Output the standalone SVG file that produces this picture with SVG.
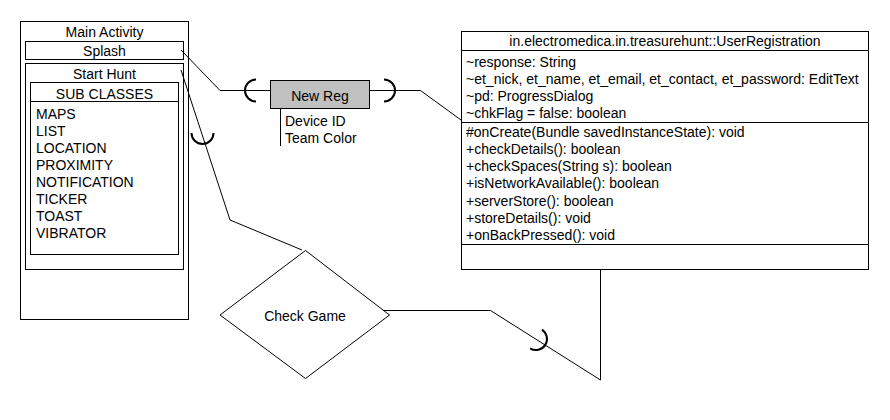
<svg xmlns="http://www.w3.org/2000/svg" width="890" height="420" viewBox="0 0 890 420">
<style>
text{font-family:"Liberation Sans",Arial,sans-serif;font-size:14px;fill:#000}
.c{text-anchor:middle}
.box{fill:#fff;stroke:#000;stroke-width:1}
.ln{fill:none;stroke:#000;stroke-width:1}
.arc{fill:none;stroke:#000;stroke-width:2}
</style>
<rect width="890" height="420" fill="#fff"/>
<g id="main-activity">
<rect class="box" x="20.5" y="21.5" width="168" height="298"/>
<text class="c" x="104.5" y="37">Main Activity</text>
<rect class="box" x="25.5" y="41.5" width="158" height="18"/>
<text class="c" x="104.5" y="56">Splash</text>
<rect class="box" x="25.5" y="63.5" width="158" height="206"/>
<text class="c" x="104.5" y="79">Start Hunt</text>
<rect class="box" x="30.5" y="82.5" width="148" height="172"/>
<line class="ln" x1="30.5" y1="101.5" x2="178.5" y2="101.5"/>
<text class="c" x="104.5" y="98.5">SUB CLASSES</text>
<text x="36" y="119">MAPS</text>
<text x="36" y="136">LIST</text>
<text x="36" y="153">LOCATION</text>
<text x="36" y="170">PROXIMITY</text>
<text x="36" y="187">NOTIFICATION</text>
<text x="36" y="204">TICKER</text>
<text x="36" y="221">TOAST</text>
<text x="36" y="238">VIBRATOR</text>
</g>
<g id="new-reg">
<rect x="270.5" y="80.5" width="99" height="28" fill="#c0c0c0" stroke="#000"/>
<text class="c" x="320" y="101">New Reg</text>
<line class="ln" x1="280.5" y1="109" x2="280.5" y2="146"/>
<text x="285" y="126">Device ID</text>
<text x="285" y="143">Team Color</text>
</g>
<g id="user-registration">
<rect class="box" x="461.5" y="31.5" width="407" height="238"/>
<text class="c" x="665" y="46">in.electromedica.in.treasurehunt::UserRegistration</text>
<line class="ln" x1="461.5" y1="50.5" x2="868.5" y2="50.5"/>
<text x="466" y="66.5">~response: String</text>
<text x="466" y="83.7">~et_nick, et_name, et_email, et_contact, et_password: EditText</text>
<text x="466" y="100.9">~pd: ProgressDialog</text>
<text x="466" y="118.1">~chkFlag = false: boolean</text>
<line class="ln" x1="461.5" y1="122.5" x2="868.5" y2="122.5"/>
<text x="466" y="136.5">#onCreate(Bundle savedInstanceState): void</text>
<text x="466" y="153.8">+checkDetails(): boolean</text>
<text x="466" y="171.1">+checkSpaces(String s): boolean</text>
<text x="466" y="188.4">+isNetworkAvailable(): boolean</text>
<text x="466" y="205.7">+serverStore(): boolean</text>
<text x="466" y="223">+storeDetails(): void</text>
<text x="466" y="240.3">+onBackPressed(): void</text>
<line class="ln" x1="461.5" y1="244.5" x2="868.5" y2="244.5"/>
</g>
<g id="check-game">
<polygon class="box" points="305.5,250.5 389.5,315 305.5,378.5 220,315"/>
<text class="c" x="305" y="321">Check Game</text>
</g>
<g id="connectors">
<polyline class="ln" points="181,50 220,90.5 270,90.5"/>
<path class="arc" d="M256 79.5 A11 11 0 0 0 256 101.5"/>
<polyline class="ln" points="369.5,90.5 420.5,90.5 461,120"/>
<path class="arc" d="M384 79.5 A11 11 0 0 1 384 101.5"/>
<polyline class="ln" points="181,70 230,220 302,250"/>
<path class="arc" d="M191.5 133 A11 11 0 0 0 213.5 133"/>
<polyline class="ln" points="383,310.5 490.5,310.5 600.5,380 600.5,269.5"/>
<path class="arc" d="M541.9 329.7 A11 11 0 0 1 530.1 348.3"/>
</g>
</svg>
